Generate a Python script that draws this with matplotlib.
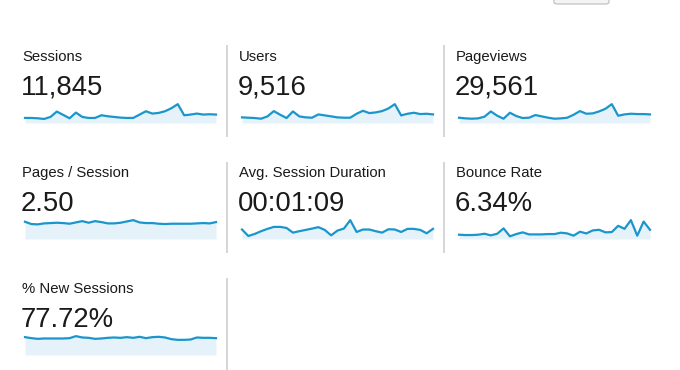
import matplotlib.pyplot as plt
from matplotlib.lines import Line2D
from matplotlib.patches import FancyBboxPatch

plt.rcParams['font.family'] = ['Liberation Sans', 'DejaVu Sans']

# metric names and headline values
labels = ["Sessions", "Users", "Pageviews",
          "Pages / Session", "Avg. Session Duration", "Bounce Rate",
          "% New Sessions"]
totals = ["11,845", "9,516", "29,561", "2.50", "00:01:09", "6.34%", "77.72%"]

# daily values (31 days)
sessions = [241, 241, 225, 193, 289, 546, 386, 225, 498, 289, 241, 241, 370, 321, 289, 257,
            241, 241, 402, 562, 450, 482, 562, 707, 900, 370, 402, 450, 402, 418, 402]
users = [205, 193, 181, 157, 241, 434, 301, 181, 422, 241, 205, 193, 313, 277, 241, 205,
         193, 193, 337, 446, 361, 386, 434, 530, 687, 277, 337, 374, 325, 337, 313]
pageviews = [640, 560, 520, 560, 760, 1400, 880, 520, 1240, 840, 600, 640, 960, 800, 640, 520,
             560, 640, 1000, 1440, 1120, 1160, 1400, 1720, 2280, 880, 1040, 1120, 1080, 1080, 1040]
pages_per_session = [2.65, 2.3, 2.25, 2.4, 2.45, 2.5, 2.45, 2.35, 2.55, 2.75, 2.5, 2.75, 2.6, 2.4,
                     2.4, 2.5, 2.7, 2.9, 2.55, 2.45, 2.45, 2.35, 2.3, 2.35, 2.35, 2.35, 2.35,
                     2.4, 2.45, 2.4, 2.6]
avg_duration = [73, 23, 39, 60, 78, 93, 93, 85, 49, 60, 70, 80, 91, 70, 28, 65,
                80, 145, 54, 73, 73, 60, 49, 75, 73, 54, 78, 78, 70, 44, 78]
bounce_rate = [4.0, 3.7, 3.7, 4.0, 4.9, 3.4, 4.9, 9.9, 2.5, 4.6, 6.2, 4.3, 4.3, 4.3, 4.6, 4.6,
               5.9, 5.2, 3.1, 6.8, 5.2, 8.0, 8.6, 6.2, 6.5, 12.3, 9.5, 17.6, 3.1, 16.3, 8.6]
new_sessions = [81.6, 77.0, 73.9, 75.5, 75.5, 75.5, 75.5, 77.0, 86.2, 80.1, 78.5, 73.9, 75.5,
                78.5, 80.1, 78.5, 81.6, 78.5, 83.2, 77.0, 81.6, 83.2, 80.1, 72.4, 69.3, 69.3,
                70.8, 80.1, 78.5, 78.5, 77.0]

series = [sessions, users, pageviews, pages_per_session, avg_duration, bounce_rate, new_sessions]

W, H = 680, 370
fig = plt.figure(figsize=(W / 100, H / 100), dpi=100)

line_col = '#1a96cc'
fill_col = '#e6f2fa'
text_col = '#1a1a1a'
col_x = [22, 239, 456]
row_y = [0, 116, 232]

for i, (lab, tot, vals) in enumerate(zip(labels, totals, series)):
    cx = col_x[i % 3]
    ry = row_y[i // 3]
    fig.text(cx / W, 1 - (61 + ry) / H, lab, fontsize=10.7, color=text_col, va='baseline')
    fig.text((cx - 1) / W, 1 - (95 + ry) / H, tot, fontsize=19.8, color=text_col, va='baseline')

    ax = fig.add_axes([(cx + 3) / W, 1 - (123 + ry) / H, 191 / W, 23 / H])
    x = range(len(vals))
    ax.fill_between(x, 0, vals, color=fill_col, lw=0)
    ax.plot(x, vals, color=line_col, lw=1.6, clip_on=False)
    ax.set_xlim(0, len(vals) - 1)
    ax.set_ylim(0, max(vals) * 1.22)
    ax.axis('off')

# separators between panels
seps = [(227, 46, 136), (444, 46, 136), (227, 163, 252), (444, 163, 252), (227, 279, 370)]
for sx, y0, y1 in seps:
    fig.add_artist(Line2D([sx / W, sx / W], [1 - y0 / H, 1 - y1 / H],
                          transform=fig.transFigure, color='#d6d6d6', lw=1.4))

# bit of a button cut off at the top
fig.add_artist(FancyBboxPatch((554 / W, 1 - 4 / H), 55 / W, 10 / H,
                              boxstyle='round,pad=0,rounding_size=0.005',
                              transform=fig.transFigure, fc='#f4f4f4', ec='#bbbbbb', lw=0.8))

fig.savefig('out.png', dpi=100)
